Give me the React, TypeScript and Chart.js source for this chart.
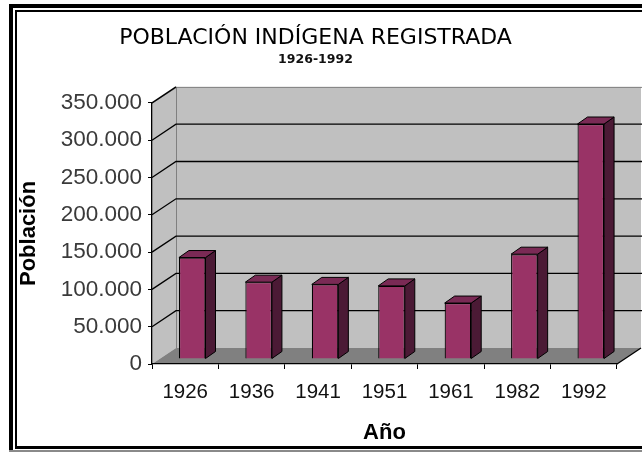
import React, { useEffect, useRef } from "react";
import { Chart, registerables } from "chart.js";

Chart.register(...registerables);

const years = ["1926", "1936", "1941", "1951", "1961", "1982", "1992"];
const population = [136000, 103000, 100000, 98000, 75000, 140500, 315000];
const yTickLabels = ["0", "50.000", "100.000", "150.000", "200.000", "250.000", "300.000", "350.000"];
const chartTitle = "POBLACIÓN INDÍGENA REGISTRADA";
const chartSubtitle = "1926-1992";
const yAxisTitle = "Población";
const xAxisTitle = "Año";

const WALL_DX = 24;
const WALL_DY = -16;
const BAR_DX = 7;
const BAR_DY = -5;
const SIDE_DX = 10;
const SIDE_DY = -7;

const FONT = "'Liberation Sans', Arial, sans-serif";
const TITLE_FONT = "'DejaVu Sans', 'Liberation Sans', sans-serif";

const framePlugin = {
  id: "frame3d",
  beforeDraw(chart: any) {
    const ctx = chart.ctx;
    const { left, right, top, bottom } = chart.chartArea;
    const y = chart.scales.y;
    ctx.save();
    ctx.fillStyle = "#ffffff";
    ctx.fillRect(0, 0, chart.width, chart.height);
    // double border
    ctx.fillStyle = "#000";
    ctx.fillRect(9, 4, 4, 448);
    ctx.fillRect(9, 4, 633, 4);
    ctx.fillStyle = "#8a8a8a";
    ctx.fillRect(9, 450, 633, 2);
    ctx.fillStyle = "#000";
    ctx.fillRect(15, 10, 2, 437);
    ctx.fillRect(15, 10, 627, 2);
    ctx.fillRect(15, 446, 627, 3);

    // left wall
    ctx.fillStyle = "#c0c0c0";
    ctx.beginPath();
    ctx.moveTo(left, top);
    ctx.lineTo(left + WALL_DX, top + WALL_DY);
    ctx.lineTo(left + WALL_DX, bottom + WALL_DY);
    ctx.lineTo(left, bottom);
    ctx.closePath();
    ctx.fill();
    // back wall
    ctx.fillRect(left + WALL_DX, top + WALL_DY, right - left, bottom - top);
    // floor
    ctx.fillStyle = "#808080";
    ctx.beginPath();
    ctx.moveTo(left, bottom);
    ctx.lineTo(right, bottom);
    ctx.lineTo(right + WALL_DX, bottom + WALL_DY);
    ctx.lineTo(left + WALL_DX, bottom + WALL_DY);
    ctx.closePath();
    ctx.fill();

    // wall outlines
    ctx.strokeStyle = "#808080";
    ctx.lineWidth = 1;
    ctx.beginPath();
    ctx.moveTo(left, top + 0.5);
    ctx.lineTo(left + WALL_DX + 0.5, top + WALL_DY + 0.5);
    ctx.lineTo(right + WALL_DX + 2, top + WALL_DY + 0.5);
    ctx.moveTo(left + WALL_DX + 0.5, top + WALL_DY);
    ctx.lineTo(left + WALL_DX + 0.5, bottom + WALL_DY);
    ctx.stroke();

    // gridlines on walls
    ctx.strokeStyle = "#000";
    ctx.lineWidth = 1.3;
    const ticks = y.ticks;
    for (let i = 1; i < ticks.length; i++) {
      const py = y.getPixelForValue(ticks[i].value);
      ctx.beginPath();
      ctx.moveTo(left, py);
      ctx.lineTo(left + WALL_DX, py + WALL_DY);
      if (i < ticks.length - 1) ctx.lineTo(right + WALL_DX + 2, py + WALL_DY);
      ctx.stroke();
    }
    // floor right edge
    ctx.beginPath();
    ctx.moveTo(right, bottom);
    ctx.lineTo(right + WALL_DX, bottom + WALL_DY);
    ctx.stroke();
    ctx.restore();
  },
  beforeDatasetsDraw(chart: any) {
    chart.ctx.save();
    chart.ctx.translate(BAR_DX, BAR_DY);
  },
  afterDatasetsDraw(chart: any) {
    const ctx = chart.ctx;
    const meta = chart.getDatasetMeta(0);
    ctx.lineWidth = 1;
    ctx.strokeStyle = "#000";
    ctx.lineJoin = "round";
    meta.data.forEach((el: any) => {
      const w = el.width;
      const l = el.x - w / 2;
      const r = el.x + w / 2;
      const t = el.y;
      const b = el.base;
      // side
      ctx.fillStyle = "#4b1a35";
      ctx.beginPath();
      ctx.moveTo(r, t);
      ctx.lineTo(r + SIDE_DX, t + SIDE_DY);
      ctx.lineTo(r + SIDE_DX, b + SIDE_DY);
      ctx.lineTo(r, b);
      ctx.closePath();
      ctx.fill();
      ctx.stroke();
      // top
      ctx.fillStyle = "#7a2a55";
      ctx.beginPath();
      ctx.moveTo(l, t);
      ctx.lineTo(l + SIDE_DX, t + SIDE_DY);
      ctx.lineTo(r + SIDE_DX, t + SIDE_DY);
      ctx.lineTo(r, t);
      ctx.closePath();
      ctx.fill();
      ctx.stroke();
    });
    ctx.restore();
  },
};

export default function App() {
  const ref = useRef<HTMLCanvasElement | null>(null);
  useEffect(() => {
    if (!ref.current) return;
    const chart = new Chart(ref.current, {
      type: "bar",
      data: {
        labels: years,
        datasets: [
          {
            data: population,
            backgroundColor: "#993366",
            borderColor: "#000000",
            borderWidth: 1.2,
            categoryPercentage: 1,
            barPercentage: 0.4,
          },
        ],
      },
      options: {
        animation: false,
        responsive: false,
        devicePixelRatio: 1,
        layout: { autoPadding: false, padding: { top: 0, left: 14, right: 25, bottom: 0 } },
        plugins: {
          legend: { display: false },
          tooltip: { enabled: false },
          title: {
            display: true,
            text: chartTitle,
            color: "#000",
            font: { family: TITLE_FONT, size: 22, weight: "normal" },
            padding: { top: 25.5, bottom: 0 },
          },
          subtitle: {
            display: true,
            text: chartSubtitle,
            color: "#111",
            font: { family: TITLE_FONT, size: 12.5, weight: "bold" },
            padding: { top: 0, bottom: 36 },
          },
        },
        scales: {
          x: {
            afterFit: (s: any) => {
              s.height = 88;
            },
            grid: { display: true, drawOnChartArea: false, drawTicks: true, tickLength: 5, color: "#000", offset: true },
            border: { display: true, color: "#000", width: 1.3 },
            ticks: {
              color: "#111",
              font: { family: FONT, size: 20.5 },
              padding: 11,
              maxRotation: 0,
              autoSkip: false,
            },
            title: {
              display: true,
              text: xAxisTitle,
              color: "#000",
              font: { family: FONT, size: 22, weight: "bold" },
              padding: { top: 0, bottom: 6 },
            },
          },
          y: {
            min: 0,
            max: 350000,
            afterFit: (s: any) => {
              s.width = 138;
            },
            grid: { display: true, drawOnChartArea: false, drawTicks: true, tickLength: 4, color: "#000" },
            border: { display: true, color: "#000", width: 1.3 },
            ticks: {
              stepSize: 50000,
              color: "#3a3a3a",
              font: { family: FONT, size: 22.5 },
              padding: 6,
              callback: (_v: any, i: number) => yTickLabels[i],
            },
            title: {
              display: true,
              text: yAxisTitle,
              color: "#000",
              font: { family: FONT, size: 22, weight: "bold" },
              padding: { top: 2, bottom: 0 },
            },
          },
        },
      },
      plugins: [framePlugin],
    } as any);
    return () => chart.destroy();
  }, []);
  return (
    <div style={{ position: "fixed", left: 0, top: 0, width: 642, height: 452, background: "#fff" }}>
      <canvas ref={ref} width={642} height={452} style={{ display: "block", width: 642, height: 452 }} />
    </div>
  );
}
